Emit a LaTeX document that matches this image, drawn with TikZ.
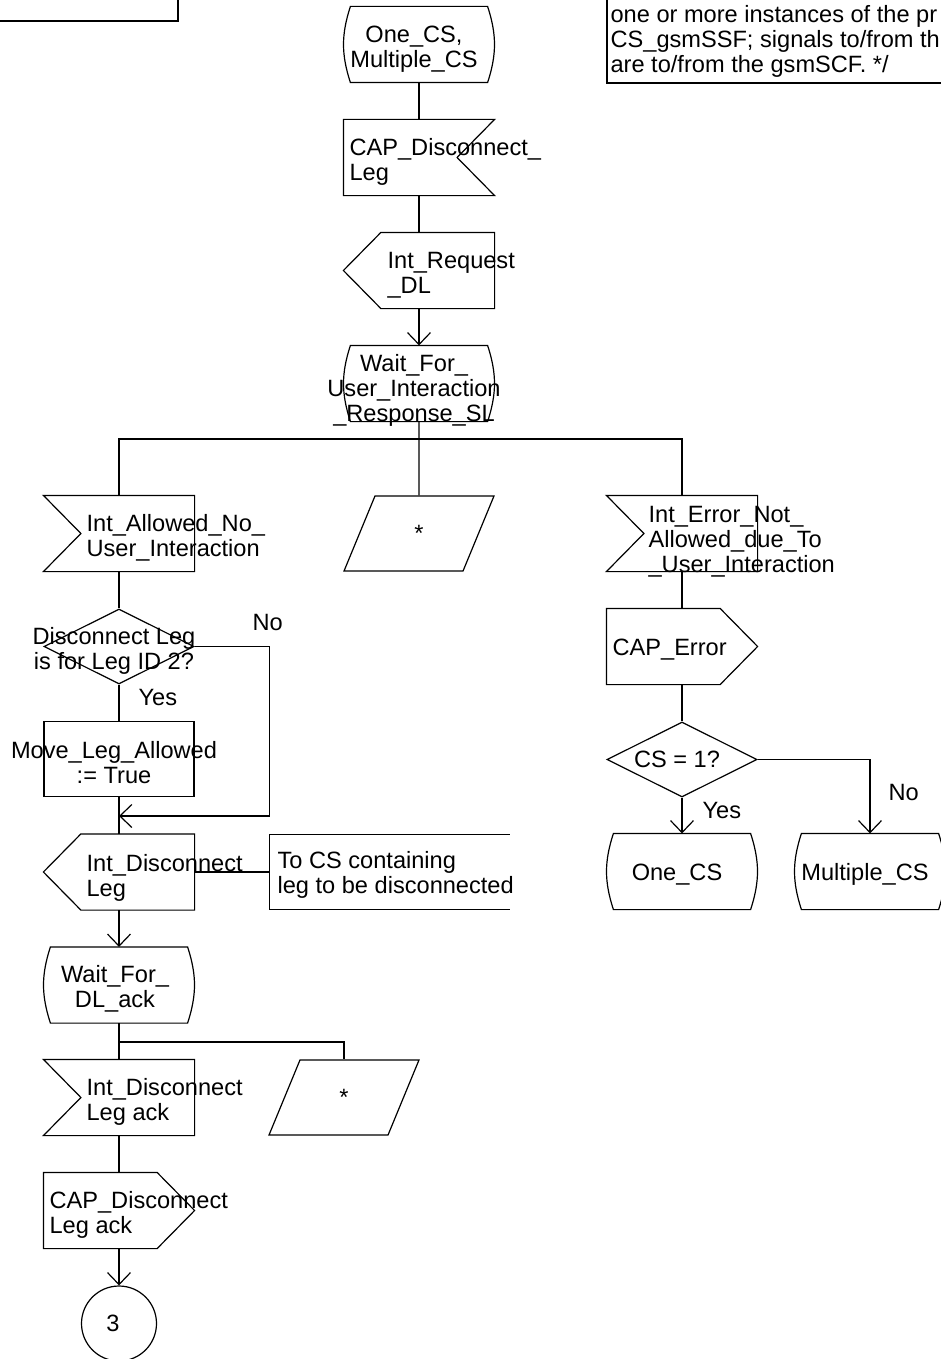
\documentclass[tikz,border=0pt]{standalone}
\usepackage{fontspec}
\setmainfont{Liberation Sans}
\usetikzlibrary{shapes.geometric, arrows.meta, positioning}

\begin{document}
\begin{tikzpicture}[
  x=0.5pt, y=-0.5pt, line width=0.6pt,
  every node/.style={font=\fontsize{11.8}{12.5}\selectfont},
  sym/.style={inner sep=0pt, minimum width=75pt, minimum height=37.5pt},
  state/.style={sym, append after command={\pgfextra{
      \draw ([xshift=3.5pt]\tikzlastnode.north west) -- ([xshift=-3.5pt]\tikzlastnode.north east)
        to[bend left=18] ([xshift=-3.5pt]\tikzlastnode.south east)
        -- ([xshift=3.5pt]\tikzlastnode.south west)
        to[bend left=18] ([xshift=3.5pt]\tikzlastnode.north west) -- cycle;}}},
  inbox/.style={sym, append after command={\pgfextra{
      \draw (\tikzlastnode.north west) -- (\tikzlastnode.north east) -- (\tikzlastnode.south east)
        -- (\tikzlastnode.south west) -- ([xshift=18.75pt]\tikzlastnode.west) -- cycle;}}},
  inboxr/.style={sym, append after command={\pgfextra{
      \draw (\tikzlastnode.north west) -- (\tikzlastnode.north east) -- ([xshift=-18.75pt]\tikzlastnode.east)
        -- (\tikzlastnode.south east) -- (\tikzlastnode.south west) -- cycle;}}},
  outbox/.style={sym, append after command={\pgfextra{
      \draw (\tikzlastnode.north west) -- ([xshift=-18.75pt]\tikzlastnode.north east) -- (\tikzlastnode.east)
        -- ([xshift=-18.75pt]\tikzlastnode.south east) -- (\tikzlastnode.south west) -- cycle;}}},
  outboxl/.style={sym, append after command={\pgfextra{
      \draw ([xshift=18.75pt]\tikzlastnode.north west) -- (\tikzlastnode.north east) -- (\tikzlastnode.south east)
        -- ([xshift=18.75pt]\tikzlastnode.south west) -- (\tikzlastnode.west) -- cycle;}}},
  task/.style={sym, draw, rectangle},
  decision/.style={sym, draw, diamond},
  anysig/.style={sym, draw, trapezium, trapezium left angle=76, trapezium right angle=104,
                 trapezium stretches=true, inner sep=2pt},
  conn/.style={draw, circle, inner sep=0pt, minimum size=37.5pt},
  combox/.style={inner sep=0pt, minimum width=119.5pt, minimum height=37pt},
  txt/.style={inner sep=0pt, align=left, anchor=base west},
  ctxt/.style={inner sep=0pt, align=center, anchor=base},
  flow/.style={-{Straight Barb[length=6pt, width=11.5pt]}}
]
\useasboundingbox (0,0) rectangle (941,1359);
\clip (0,0) rectangle (941,1359);

% frame fragments at the top
\draw (-10,-10) rectangle (178,21);
\draw (607,-10) rectangle (960,83);
\node[txt] (note) at (610,73) {one or more instances of the pr\\CS\_gsmSSF; signals to/from th\\are to/from the gsmSCF. */};

% middle column
\node[state] (s0) at (419,44.5) {};
\node[ctxt] (s0t) at (414,68) {One\_CS,\\Multiple\_CS};
\node[inboxr] (o1) at (419,157.5) {};
\node[txt] (o1t) at (349,180) {CAP\_Disconnect\_\\Leg};
\node[outboxl] (i1) at (419,270.5) {};
\node[txt] (i1t) at (387,293) {Int\_Request\\\_DL};
\node[state] (s1) at (419,383.5) {};
\node[ctxt] (s1t) at (414,421) {Wait\_For\_\\User\_Interaction\\\_Response\_SL};
\coordinate (br1) at (419,439);
\node[anysig] (p1) at (419,533.5) {*};

% left column
\node[inbox] (in2) at (119,533.5) {};
\node[txt] (in2t) at (86,556) {Int\_Allowed\_No\_\\User\_Interaction};
\node[decision] (d1) at (119,646.5) {};
\node[ctxt] (d1t) at (114,669) {Disconnect Leg\\is for Leg ID 2?};
\node[txt] (no1) at (252,630) {No};
\node[txt] (yes1) at (138,705) {Yes};
\node[task] (t1) at (119,759) {};
\node[ctxt] (t1t) at (114,783) {Move\_Leg\_Allowed\\:= True};
\coordinate (m1) at (119,816);
\node[outboxl] (out1) at (119,872) {};
\node[txt] (out1t) at (86,896) {Int\_Disconnect\\Leg};
\node[combox] (c1) at (389.5,872) {};
\node[txt] (c1t) at (277,893) {To CS containing\\leg to be disconnected};
\node[state] (s2) at (119,985) {};
\node[ctxt] (s2t) at (115,1007) {Wait\_For\_\\DL\_ack};
\coordinate (br2) at (119,1042);
\node[inbox] (in4) at (119,1097.5) {};
\node[txt] (in4t) at (86,1120) {Int\_Disconnect\\Leg ack};
\node[anysig] (p2) at (344,1097.5) {*};
\node[outbox] (out2) at (119,1210.5) {};
\node[txt] (out2t) at (49,1233) {CAP\_Disconnect\\Leg ack};
\node[conn] (con) at (119,1323.5) {};
\node[ctxt] (cont) at (113,1331) {3};

% right column
\node[inbox] (in3) at (682,533.5) {};
\node[txt] (in3t) at (648,572) {Int\_Error\_Not\_\\Allowed\_due\_To\\\_User\_Interaction};
\node[outbox] (out3) at (682,646.5) {};
\node[txt] (out3t) at (612,655) {CAP\_Error};
\node[decision] (d2) at (682,759.5) {};
\node[ctxt] (d2t) at (677,767) {CS = 1?};
\node[txt] (yes2) at (702,818) {Yes};
\node[txt] (no2) at (888,800) {No};
\node[state] (s3) at (682,871.5) {};
\node[ctxt] (s3t) at (677,880) {One\_CS};
\node[state] (s4) at (870,871.5) {};
\node[ctxt] (s4t) at (865,880) {Multiple\_CS};

% connectors
\draw (s0.south) -- (o1.north);
\draw (o1.south) -- (i1.north);
\draw[flow] (i1.south) -- (s1.north);
\draw (s1.south) -- (br1) -- (p1.north);
\draw (in2.north) |- (br1) -| (in3.north);
\draw (in2.south) -- (d1.north);
\draw (d1.south) -- (t1.north);
\draw (t1.south) -- (out1.north);
\draw[flow] (d1.east) -- ++(75,0) |- (m1);
\draw (out1.east) -- (c1.west);
\draw (c1.north east) -- (c1.north west) -- (c1.south west) -- (c1.south east);
\draw[flow] (out1.south) -- (s2.north);
\draw (s2.south) -- (in4.north);
\draw (br2) -| (p2.north);
\draw (in4.south) -- (out2.north);
\draw[flow] (out2.south) -- (con.north);
\draw (in3.south) -- (out3.north);
\draw (out3.south) -- (d2.north);
\draw[flow] (d2.south) -- (s3.north);
\draw[flow] (d2.east) -| (s4.north);

\end{tikzpicture}
\end{document}
